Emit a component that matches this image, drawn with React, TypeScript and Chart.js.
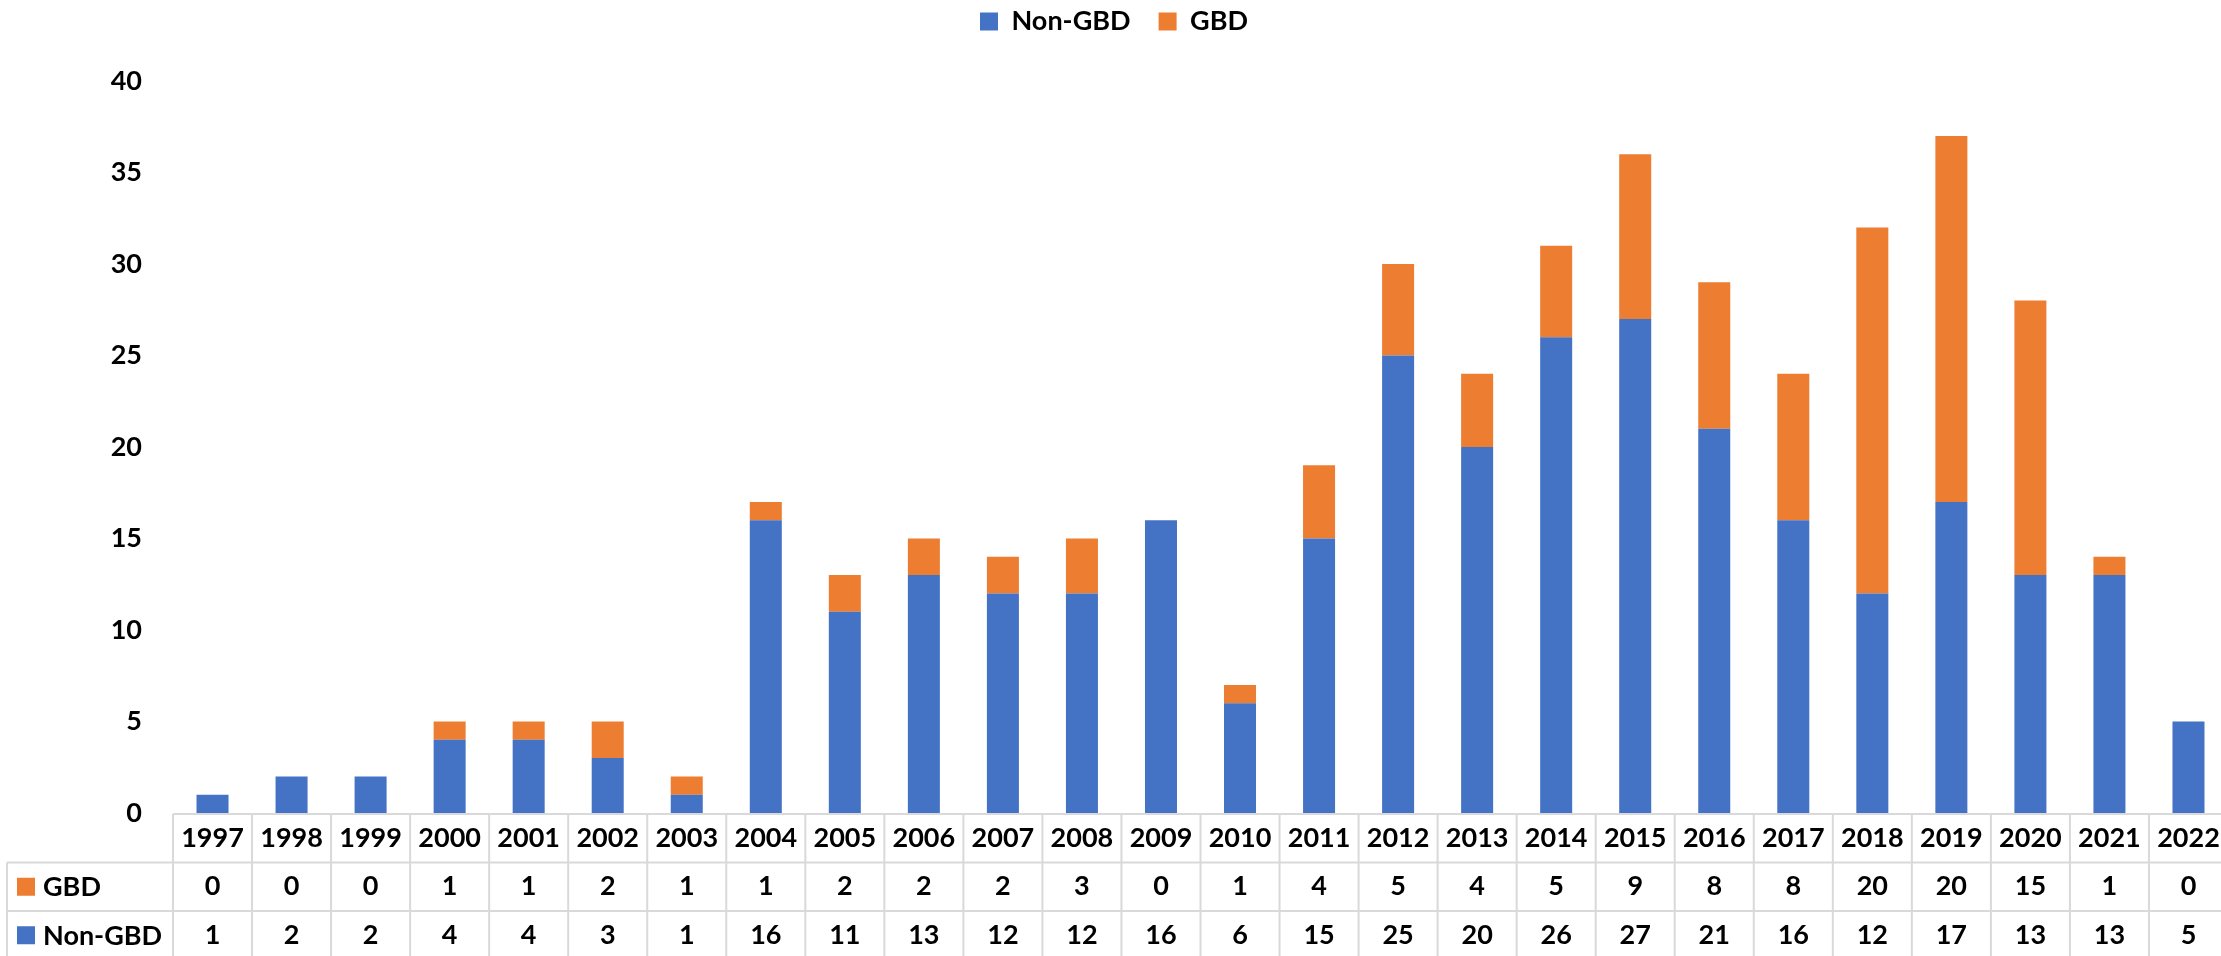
import React, { useEffect, useRef } from "react";
import { Chart, registerables } from "chart.js";

Chart.register(...registerables);

const categories = [
  "1997", "1998", "1999", "2000", "2001", "2002", "2003", "2004", "2005",
  "2006", "2007", "2008", "2009", "2010", "2011", "2012", "2013", "2014",
  "2015", "2016", "2017", "2018", "2019", "2020", "2021", "2022",
];
const nonGbdValues = [1, 2, 2, 4, 4, 3, 1, 16, 11, 13, 12, 12, 16, 6, 15, 25, 20, 26, 27, 21, 16, 12, 17, 13, 13, 5];
const gbdValues = [0, 0, 0, 1, 1, 2, 1, 1, 2, 2, 2, 3, 0, 1, 4, 5, 4, 5, 9, 8, 8, 20, 20, 15, 1, 0];
const seriesNames = ["Non-GBD", "GBD"];
const yTicks = [0, 5, 10, 15, 20, 25, 30, 35, 40];

const BLUE = "#4472C4";
const ORANGE = "#ED7D31";
const FONT = "Lato";

const tablePlugin = {
  id: "dataTable",
  afterDraw(chart: any) {
    const ctx = chart.ctx;
    const xs = chart.scales.x;
    const area = chart.chartArea;
    const n = categories.length;
    const colW = xs.getPixelForValue(1) - xs.getPixelForValue(0);
    const left = xs.getPixelForValue(0) - colW / 2;
    const right = left + colW * n;
    const top = area.bottom + 1;
    const rowH = 48.5;
    const legendLeft = 7;
    const bottom = top + rowH * 3;

    ctx.save();
    ctx.strokeStyle = "#d9d9d9";
    ctx.lineWidth = 2;
    ctx.beginPath();
    ctx.moveTo(left, top);
    ctx.lineTo(right, top);
    ctx.moveTo(legendLeft, top + rowH);
    ctx.lineTo(right, top + rowH);
    ctx.moveTo(legendLeft, top + rowH * 2);
    ctx.lineTo(right, top + rowH * 2);
    ctx.moveTo(legendLeft, bottom);
    ctx.lineTo(right, bottom);
    ctx.moveTo(legendLeft, top + rowH);
    ctx.lineTo(legendLeft, bottom);
    for (let i = 0; i <= n; i++) {
      const xx = left + colW * i;
      ctx.moveTo(xx, top);
      ctx.lineTo(xx, bottom);
    }
    ctx.stroke();

    ctx.fillStyle = "#000";
    ctx.font = `bold 27px ${FONT}`;
    ctx.textAlign = "center";
    ctx.textBaseline = "middle";
    for (let i = 0; i < n; i++) {
      const cx = xs.getPixelForValue(i);
      ctx.fillText(categories[i], cx, top + rowH * 0.5);
      ctx.fillText(String(gbdValues[i]), cx, top + rowH * 1.5);
      ctx.fillText(String(nonGbdValues[i]), cx, top + rowH * 2.5);
    }

    const rows = [
      { name: seriesNames[1], color: ORANGE, cy: top + rowH * 1.5 },
      { name: seriesNames[0], color: BLUE, cy: top + rowH * 2.5 },
    ];
    ctx.textAlign = "left";
    for (const r of rows) {
      ctx.fillStyle = r.color;
      ctx.fillRect(17, r.cy - 9, 18, 18);
      ctx.fillStyle = "#000";
      ctx.fillText(r.name, 43, r.cy + 1);
    }
    ctx.restore();
  },
};

export default function App() {
  const canvasRef = useRef<HTMLCanvasElement | null>(null);

  useEffect(() => {
    document.body.style.margin = "0";
    document.body.style.overflow = "hidden";
    const canvas = canvasRef.current;
    if (!canvas) return;
    const chart = new Chart(canvas, {
      type: "bar",
      data: {
        labels: categories,
        datasets: [
          {
            label: seriesNames[0],
            data: nonGbdValues,
            backgroundColor: BLUE,
            borderWidth: 0,
            barPercentage: 0.405,
            categoryPercentage: 1,
          },
          {
            label: seriesNames[1],
            data: gbdValues,
            backgroundColor: ORANGE,
            borderWidth: 0,
            barPercentage: 0.405,
            categoryPercentage: 1,
          },
        ],
      },
      options: {
        animation: false,
        responsive: false,
        maintainAspectRatio: false,
        layout: { padding: { left: 0, right: 2, top: -20, bottom: 143 } },
        plugins: {
          legend: {
            display: true,
            position: "top",
            labels: {
              boxWidth: 18,
              boxHeight: 18,
              padding: 28,
              color: "#000",
              font: { family: FONT, size: 27, weight: "bold" },
            },
          },
          tooltip: { enabled: false },
        },
        scales: {
          x: {
            stacked: true,
            display: false,
            offset: true,
            grid: { display: false },
          },
          xTopSpacer: {
            type: "category",
            position: "top",
            display: true,
            offset: true,
            grid: { display: false, drawTicks: false },
            border: { display: false },
            ticks: { display: false },
            afterFit: (scale: any) => {
              scale.height = 36;
            },
          },
          y: {
            stacked: true,
            min: 0,
            max: 40,
            grid: { display: false, drawTicks: false },
            border: { display: false },
            afterBuildTicks: (scale: any) => {
              scale.ticks = yTicks.map((v) => ({ value: v }));
            },
            afterFit: (scale: any) => {
              scale.width = 173;
            },
            ticks: {
              padding: 31,
              color: "#000",
              font: { family: FONT, size: 27, weight: "bold" },
            },
          },
        },
      },
      plugins: [tablePlugin],
    });
    if ((document as any).fonts && (document as any).fonts.ready) {
      (document as any).fonts.ready.then(() => chart.update());
    }
    return () => chart.destroy();
  }, []);

  return (
    <div style={{ width: 2221, height: 956, overflow: "hidden", position: "relative", background: "#fff" }}>
      <canvas ref={canvasRef} width={2230} height={956} style={{ display: "block", width: 2230, height: 956 }} />
    </div>
  );
}
